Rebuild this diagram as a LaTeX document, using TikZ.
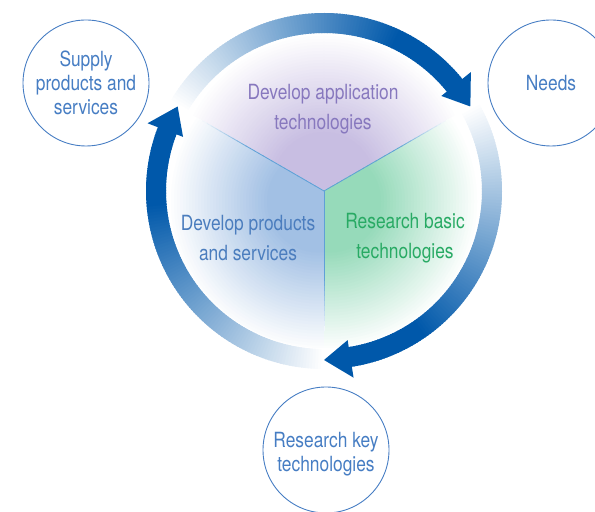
\documentclass[tikz,border=0pt]{standalone}
\usepackage{fontspec}
\setmainfont[FakeStretch=0.83]{TeX Gyre Heros}
\usetikzlibrary{calc}
\definecolor{arrowblue}{RGB}{0,88,170}
\definecolor{circblue}{RGB}{70,125,195}
\definecolor{purptext}{RGB}{135,120,190}
\definecolor{greentext}{RGB}{40,170,100}
\definecolor{prodtext}{RGB}{75,125,190}
\definecolor{purpfill}{RGB}{200,190,226}
\definecolor{bluefill}{RGB}{162,192,228}
\definecolor{greenfill}{RGB}{150,218,186}
\definecolor{divider}{RGB}{95,160,215}
\begin{document}
\begin{tikzpicture}[x=1bp,y=1bp,
  circnode/.style={circle, draw=circblue, line width=0.9bp, minimum size=126bp, inner sep=0pt,
    text=circblue, align=center, font=\fontsize{21}{24}\selectfont},
  circtext/.style={text=circblue, align=center, inner sep=0pt, font=\fontsize{21}{24}\selectfont},
  lbl/.style={align=center, inner sep=0pt, font=\fontsize{21}{30}\selectfont}]
\useasboundingbox (0,0) rectangle (595,512);
\coordinate (c) at (324,321);

% sector colour blobs
\begin{scope}
  \clip (c) -- ([shift={(30:157)}]c) arc[start angle=30,end angle=150,radius=157] -- cycle;
  \foreach \k in {0,...,34} {
    \pgfmathsetmacro\rr{150-3*\k}
    \pgfmathsetmacro\pp{min(100,\k*100/33)}
    \fill[purpfill!\pp!white] ([shift={(90:8)}]c) circle[radius=\rr];
  }
\end{scope}
\begin{scope}
  \clip (c) -- ([shift={(150:157)}]c) arc[start angle=150,end angle=270,radius=157] -- cycle;
  \foreach \k in {0,...,34} {
    \pgfmathsetmacro\rr{150-3*\k}
    \pgfmathsetmacro\pp{min(100,\k*100/33)}
    \fill[bluefill!\pp!white] ([shift={(240:12)}]c) circle[radius=\rr];
  }
\end{scope}
\begin{scope}
  \clip (c) -- ([shift={(-90:157)}]c) arc[start angle=-90,end angle=30,radius=157] -- cycle;
  \foreach \k in {0,...,34} {
    \pgfmathsetmacro\rr{150-3*\k}
    \pgfmathsetmacro\pp{min(100,\k*100/33)}
    \fill[greenfill!\pp!white] ([shift={(-60:12)}]c) circle[radius=\rr];
  }
\end{scope}

% dividers
\foreach \ang in {30,150,270} {
  \foreach \j in {0,...,27} {
    \pgfmathsetmacro\ra{5*\j}
    \pgfmathsetmacro\rb{5*\j+5.5}
    \pgfmathsetmacro\pp{min(100,max(0,(28-\j)*9))}
    \draw[divider!\pp!white, line width=0.8bp] ([shift={(\ang:\ra)}]c) -- ([shift={(\ang:\rb)}]c);
  }
}

% cycle arrows
\foreach \s in {150,30,-90} {
  \pgfmathsetmacro\e{\s-120}
  \pgfmathsetmacro\eb{\s-111}
  \foreach \i in {0,...,111} {
    \pgfmathsetmacro\aa{\s-\i}
    \pgfmathsetmacro\ab{\s-\i-1.4}
    \pgfmathsetmacro\pp{min(100,\i*100/85)}
    \fill[arrowblue!\pp!white] ([shift={(\aa:158)}]c) arc[start angle=\aa, end angle=\ab, radius=158]
      -- ([shift={(\ab:178)}]c) arc[start angle=\ab, end angle=\aa, radius=178] -- cycle;
  }
  \fill[arrowblue] ([shift={(\eb:151)}]c) -- ([shift={(\e:169)}]c) -- ([shift={(\eb:189)}]c) -- cycle;
}

% outer circles
\node[circnode] (supply) at (86,429) {Supply\\products and\\services};
\node[circnode] (needs) at (551,429) {Needs};
\node[circnode] (key) at (326,62) {};
\node[circtext] (keytext) at (326,58) {Research key\\technologies};

% inner labels
\node[lbl, text=purptext] (app) at (323,403) {Develop application\\technologies};
\node[lbl, text=prodtext] (prod) at (248,274) {Develop products\\and services};
\node[lbl, text=greentext] (basic) at (405,274) {Research basic\\technologies};
\end{tikzpicture}
\end{document}
